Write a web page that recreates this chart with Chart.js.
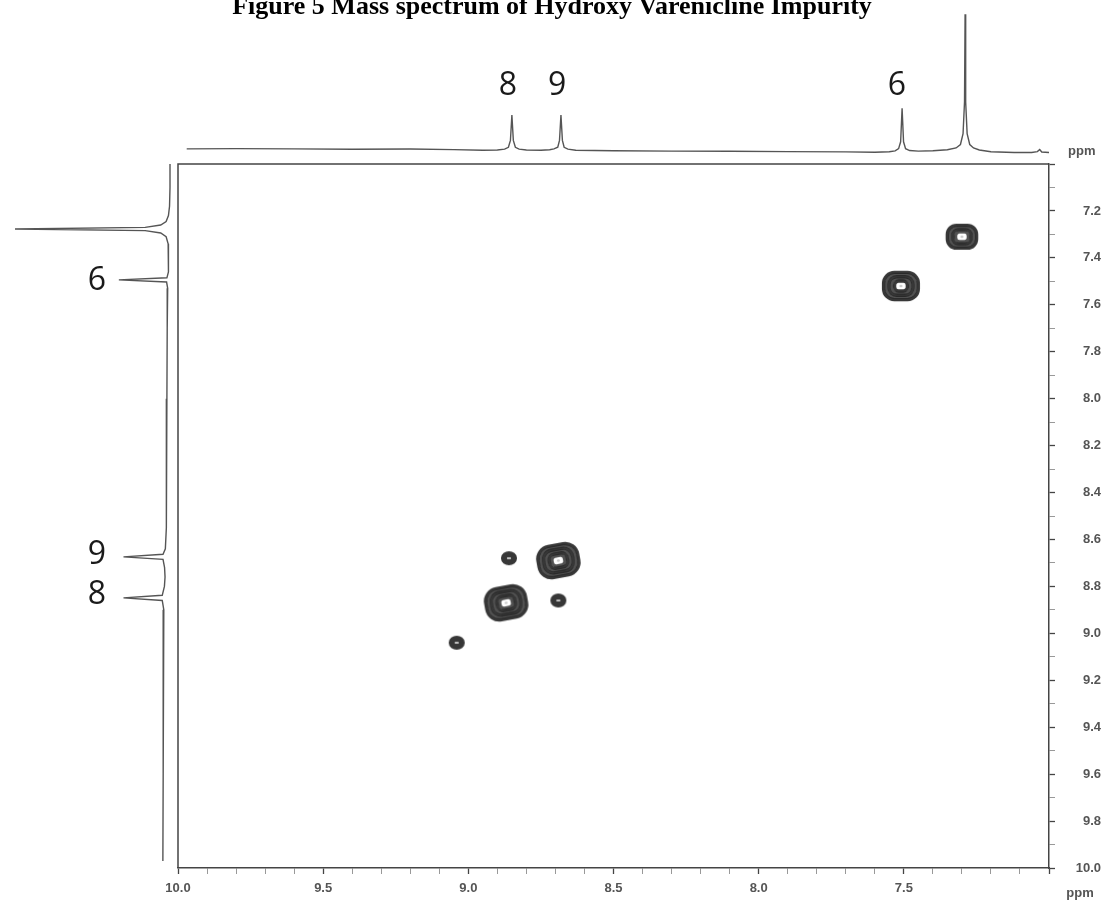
<!DOCTYPE html>
<html>
<head>
<meta charset="utf-8">
<title>COSY spectrum</title>
<script src="https://cdn.jsdelivr.net/npm/chart.js@4.4.1/dist/chart.umd.min.js"></script>
<style>
  html, body { margin: 0; padding: 0; background: #fff; }
  #wrap { position: relative; width: 1113px; height: 904px; overflow: hidden; }
  #wrap canvas { position: absolute; }
</style>
</head>
<body>
<div id="wrap">
  <canvas id="cosy" width="1113" height="904" style="left:0;top:0"></canvas>
  <canvas id="projTop" width="871" height="165" style="left:178px;top:0"></canvas>
  <canvas id="projLeft" width="180" height="704" style="left:0;top:164px"></canvas>
</div>
<script>
const title = 'Figure 5 Mass spectrum of Hydroxy Varenicline Impurity';

// cross peaks (F2 = horizontal ppm, F1 = vertical ppm) and number of contour levels
const crossF2 = [7.30, 7.51, 8.69, 8.87, 8.86, 8.69, 9.04];
const crossF1 = [7.31, 7.52, 8.69, 8.87, 8.68, 8.86, 9.04];
const crossLevel = [4, 5, 6, 6, 1, 1, 1];

// labelled protons
const peakNames = ['8', '9', '6'];
const peakShift = [8.85, 8.68, 7.51];

// 1D projection on top (ppm, relative intensity)
const topPpm = [9.97, 9.80, 9.60, 9.40, 9.20, 9.05, 8.95, 8.90, 8.875, 8.862, 8.855, 8.850, 8.845, 8.838, 8.825,
  8.80, 8.75, 8.72, 8.705, 8.692, 8.686, 8.681, 8.676, 8.670, 8.657, 8.63, 8.50, 8.30, 8.10, 7.90, 7.70, 7.60,
  7.55, 7.53, 7.518, 7.511, 7.506, 7.501, 7.494, 7.48, 7.45, 7.40, 7.35, 7.32, 7.305, 7.296, 7.291, 7.289,
  7.287, 7.282, 7.273, 7.26, 7.24, 7.20, 7.12, 7.06, 7.04, 7.032, 7.025, 7.00];
const topInt = [0.8, 1.0, 0.8, 0.6, 0.7, 0.3, -0.2, 0.0, 0.6, 2.0, 7.0, 25.5, 7.0, 2.0, 0.6,
  0.0, -0.2, 0.2, 0.8, 2.0, 7.0, 25.5, 7.0, 2.0, 0.6, -0.2, -0.6, -0.8, -0.9, -1.2, -1.4, -1.6,
  -1.3, -0.6, 1.0, 6.0, 30.5, 6.0, 1.0, -0.4, -0.8, -0.5, 0.2, 1.5, 4.0, 12, 35, 99,
  35, 12, 4.0, 1.5, 0.0, -1.3, -1.8, -1.8, -1.2, 0.3, -1.5, -1.8];

// 1D projection on the left (ppm, relative intensity)
const leftPpm = [6.98, 7.10, 7.18, 7.22, 7.245, 7.260, 7.270, 7.277, 7.284, 7.294, 7.31, 7.34, 7.40, 7.46,
  7.485, 7.494, 7.503, 7.53, 7.70, 8.00, 8.30, 8.55, 8.64, 8.663, 8.674, 8.685, 8.72, 8.76, 8.80, 8.838,
  8.849, 8.860, 8.90, 9.20, 9.60, 9.97];
const leftInt = [0.0, 0.0, 0.3, 1.0, 2.5, 6, 16, 100, 16, 6, 2.5, 1.2, 1.0, 1.0,
  2.0, 33, 2.2, 1.5, 1.8, 2.0, 2.2, 2.5, 3.0, 4.5, 30, 4.5, 3.5, 3.2, 3.6, 5,
  30, 5, 4.0, 4.3, 4.5, 4.6];

const tickFont = { family: '"Liberation Sans", Arial, sans-serif', size: 13, weight: 'bold' };
const axisColor = '#444';

// contour marker: concentric rings, rounded-square for the strong peaks
function contourMark(level) {
  const rx = 5 + 2.75 * level;
  const ry = rx * 0.78;
  const pad = 5;
  const c = document.createElement('canvas');
  c.width = Math.ceil(2 * rx + 2 * pad);
  c.height = Math.ceil(2 * rx + 2 * pad);
  const g = c.getContext('2d');
  g.filter = 'blur(0.6px)';
  g.translate(c.width / 2, c.height / 2);
  if (level >= 6) g.rotate(-0.18);
  const inner = level > 1 ? 5 : 2.5;
  const step = (rx - inner) / level;
  g.strokeStyle = '#262626';
  for (let k = 0; k < level; k++) {
    const d = step * (k + 0.5);
    const w = rx - d, h = Math.max(ry - d * 0.78, 0.5);
    g.globalAlpha = k % 2 ? 0.8 : 0.92;
    g.lineWidth = step + 0.6;
    g.beginPath();
    if (level >= 4) {
      g.roundRect(-w, -h, 2 * w, 2 * h, Math.min(w, h) * 0.8);
    } else {
      g.ellipse(0, 0, w, h, 0, 0, Math.PI * 2);
    }
    g.stroke();
  }
  g.globalAlpha = 0.3;
  g.fillStyle = '#555';
  g.beginPath();
  g.ellipse(0, 0, 1.6, 1.2, 0, 0, Math.PI * 2);
  g.fill();
  return c;
}

const frameAndText = {
  id: 'frameAndText',
  afterDraw(chart) {
    const { ctx, chartArea: a, scales } = chart;
    ctx.save();
    ctx.strokeStyle = axisColor;
    ctx.lineWidth = 1.5;
    ctx.beginPath();
    ctx.moveTo(a.left, a.bottom);
    ctx.lineTo(a.left, a.top);
    ctx.lineTo(a.right, a.top);
    ctx.stroke();

    ctx.fillStyle = '#000';
    ctx.font = 'bold 26px "Liberation Serif", "Times New Roman", serif';
    ctx.textAlign = 'center';
    ctx.textBaseline = 'alphabetic';
    ctx.fillText(title, 552, 14);

    ctx.fillStyle = '#1a1a1a';
    ctx.font = '32px "Open Sans", sans-serif';
    ctx.textBaseline = 'middle';
    peakNames.forEach((n, i) => {
      ctx.fillText(n, scales.x.getPixelForValue(peakShift[i]) - 4, 86);
      ctx.fillText(n, 97, scales.y.getPixelForValue(peakShift[i]) - 3);
    });

    ctx.fillStyle = '#555';
    ctx.font = `bold ${tickFont.size}px ${tickFont.family}`;
    ctx.textAlign = 'left';
    ctx.fillText('ppm', a.right + 19, a.top - 13);
    ctx.textAlign = 'center';
    ctx.fillText('ppm', a.right + 31, a.bottom + 25);
    ctx.restore();
  }
};

const majorX = v => Math.round(v * 10) % 5 === 0;
const majorY = v => Math.round(v * 10) % 2 === 0;

new Chart(document.getElementById('cosy'), {
  type: 'scatter',
  data: {
    datasets: [{
      data: crossF2.map((x, i) => ({ x, y: crossF1[i] })),
      pointStyle: crossLevel.map(contourMark),
      pointRadius: 10
    }]
  },
  options: {
    responsive: false,
    animation: false,
    events: [],
    layout: { padding: { left: 178, top: 164, right: 12, bottom: 0 }, autoPadding: false },
    plugins: { legend: { display: false }, tooltip: { enabled: false } },
    scales: {
      x: {
        type: 'linear',
        position: 'bottom',
        min: 7,
        max: 10,
        reverse: true,
        afterFit: s => { s.height = 36; },
        ticks: {
          stepSize: 0.1,
          autoSkip: false,
          maxRotation: 0,
          padding: 7,
          color: '#555',
          font: tickFont,
          callback: v => {
            const t = Math.round(v * 10);
            return t % 5 === 0 && t !== 70 ? (t / 10).toFixed(1) : '';
          }
        },
        grid: {
          drawOnChartArea: false,
          tickLength: 6,
          tickColor: c => majorX(c.tick.value) ? axisColor : '#999',
          tickWidth: c => majorX(c.tick.value) ? 1.3 : 1
        },
        border: { color: axisColor, width: 1.5 }
      },
      y: {
        type: 'linear',
        position: 'right',
        min: 7,
        max: 10,
        reverse: true,
        afterFit: s => { s.width = 52; },
        ticks: {
          stepSize: 0.1,
          autoSkip: false,
          padding: 9,
          crossAlign: 'far',
          color: '#555',
          font: tickFont,
          callback: v => {
            const t = Math.round(v * 10);
            return t % 2 === 0 && t !== 70 ? (t / 10).toFixed(1) : '';
          }
        },
        grid: {
          drawOnChartArea: false,
          tickLength: 6,
          tickColor: c => majorY(c.tick.value) ? axisColor : '#999',
          tickWidth: c => majorY(c.tick.value) ? 1.3 : 1
        },
        border: { color: axisColor, width: 1.5 }
      }
    }
  },
  plugins: [frameAndText]
});

const traceStyle = {
  showLine: true,
  borderColor: '#555',
  borderWidth: 1.4,
  pointRadius: 0,
  tension: 0,
  clip: false
};

new Chart(document.getElementById('projTop'), {
  type: 'scatter',
  data: { datasets: [{ ...traceStyle, data: topPpm.map((x, i) => ({ x, y: topInt[i] })) }] },
  options: {
    responsive: false,
    animation: false,
    events: [],
    layout: { padding: { top: 13, bottom: 15, left: 0, right: 0 }, autoPadding: false },
    plugins: { legend: { display: false }, tooltip: { enabled: false } },
    scales: {
      x: { display: false, min: 7, max: 10, reverse: true },
      y: { display: false, min: 0, max: 100 }
    }
  }
});

new Chart(document.getElementById('projLeft'), {
  type: 'scatter',
  data: { datasets: [{ ...traceStyle, data: leftPpm.map((y, i) => ({ x: leftInt[i], y })) }] },
  options: {
    responsive: false,
    animation: false,
    events: [],
    layout: { padding: { top: 0, bottom: 0, left: 15, right: 10 }, autoPadding: false },
    plugins: { legend: { display: false }, tooltip: { enabled: false } },
    scales: {
      x: { display: false, min: 0, max: 100, reverse: true },
      y: { display: false, min: 7, max: 10, reverse: true }
    }
  }
});
</script>
</body>
</html>
